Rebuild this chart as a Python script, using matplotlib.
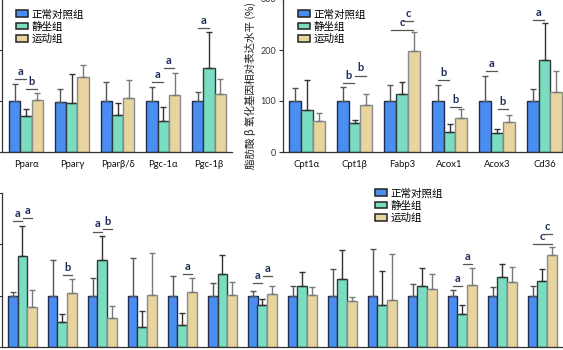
import matplotlib
matplotlib.use('Agg')
import matplotlib.pyplot as plt
import numpy as np
from matplotlib.patches import Patch

plt.rcParams['font.family'] = ['Lato', 'DejaVu Sans']

groups = ['正常对照组', '静坐组', '运动组']

# top left: PPAR / PGC genes
genes1 = ['Pparα', 'Pparγ', 'Pparβ/δ', 'Pgc-1α', 'Pgc-1β']
ctrl1 = [100, 98, 100, 100, 100]
ctrl1_sd = [33, 26, 38, 27, 18]
sed1 = [70, 97, 72, 61, 165]
sed1_sd = [14, 55, 25, 27, 71]
ex1 = [101, 148, 105, 112, 113]
ex1_sd = [14, 22, 36, 42, 31]
sig1 = [(0, 0, 1, 144, 'a'), (0, 1, 2, 124, 'b'), (3, 0, 1, 137, 'a'),
        (3, 1, 2, 164, 'a'), (4, 0, 1, 243, 'a')]

# top right: fatty acid beta-oxidation genes
genes2 = ['Cpt1α', 'Cpt1β', 'Fabp3', 'Acox1', 'Acox3', 'Cd36']
ctrl2 = [100, 100, 100, 100, 100, 100]
ctrl2_sd = [26, 28, 31, 31, 50, 24]
sed2 = [82, 56, 114, 39, 38, 180]
sed2_sd = [60, 7, 24, 15, 8, 72]
ex2 = [61, 93, 198, 67, 59, 118]
ex2_sd = [16, 21, 37, 17, 14, 41]
sig2 = [(1, 0, 1, 136, 'b'), (1, 1, 2, 150, 'b'), (2, 0, 2, 240, 'c'),
        (2, 1, 2, 257, 'c'), (3, 0, 1, 141, 'b'), (3, 1, 2, 88, 'b'),
        (4, 0, 1, 159, 'a'), (4, 1, 2, 84, 'b'), (5, 0, 1, 258, 'a')]
ylabel2 = '脂肪酸 β 氧化基因相对表达水平 (%)'

# bottom: 14 genes (labels cut off in the source)
ctrl3 = [100] * 14
ctrl3_sd = [8, 70, 34, 74, 38, 25, 10, 19, 51, 90, 22, 12, 17, 18]
sed3 = [177, 49, 169, 38, 42, 143, 82, 119, 132, 81, 119, 65, 136, 129]
sed3_sd = [59, 15, 47, 33, 24, 36, 12, 27, 56, 68, 34, 16, 26, 22]
ex3 = [77, 106, 57, 101, 107, 101, 103, 101, 90, 92, 113, 121, 127, 180]
ex3_sd = [34, 26, 22, 83, 28, 26, 15, 16, 7, 90, 30, 32, 28, 15]
sig3 = [(0, 0, 1, 245, 'a'), (0, 1, 2, 251, 'a'), (1, 1, 2, 140, 'b'),
        (2, 0, 1, 225, 'a'), (2, 1, 2, 230, 'b'), (4, 1, 2, 143, 'a'),
        (6, 0, 1, 125, 'a'), (6, 1, 2, 138, 'a'), (11, 0, 1, 119, 'a'),
        (11, 1, 2, 161, 'a'), (13, 0, 2, 201, 'c'), (13, 1, 2, 221, 'c')]

colors = ['#4a8ef2', '#7adcc1', '#e8d49e']
edges = ['#1d2b4f', '#2f3b38', '#8a8a8a']
ecolors = ['#555555', '#333333', '#7a7a7a']
CJK = ['Noto Sans CJK SC', 'DejaVu Sans']

W, H = 563, 350
fig = plt.figure(figsize=(W / 100, H / 100), dpi=100)


def px_axes(left, bottom, width, height):
    # pixel box (top-left origin) -> figure fraction
    return fig.add_axes([left / W, 1 - bottom / H, width / W, height / H])


def draw_panel(ax, series, sds, sig, w):
    n = len(series[0])
    x = np.arange(n)
    offs = [-w, 0, w]
    for k in range(3):
        ax.bar(x + offs[k], series[k], width=w, color=colors[k],
               edgecolor=edges[k], linewidth=1.0,
               yerr=[np.zeros(n), sds[k]],
               error_kw=dict(ecolor=ecolors[k], elinewidth=1.0,
                             capsize=2.5, capthick=1.0), zorder=2)
    for g, a, b, yv, letter in sig:
        x0 = g + offs[a] + 0.01
        x1 = g + offs[b] - 0.01
        ax.plot([x0, x1], [yv, yv], color='#555555', lw=0.9, zorder=3)
        ax.text((x0 + x1) / 2, yv + 4, letter, ha='center', va='bottom',
                fontsize=8, fontweight='bold', color='#1f2d5a')
    ax.set_ylim(0, 300)
    ax.set_yticks([0, 100, 200, 300])
    for s in ['top', 'right']:
        ax.spines[s].set_visible(False)
    for s in ['left', 'bottom']:
        ax.spines[s].set_color('#333333')
        ax.spines[s].set_linewidth(0.9)
    ax.tick_params(axis='x', length=0, pad=6, labelsize=6.8, colors='#111111')
    ax.tick_params(axis='y', direction='out', length=3, width=0.8, pad=2,
                   labelsize=6.5, colors='#333333')
    ax.patch.set_alpha(0)


def add_legend(x, y):
    handles = [Patch(facecolor=colors[k], edgecolor='#222222', linewidth=1.1)
               for k in range(3)]
    fig.legend(handles, groups, loc='upper left',
               bbox_to_anchor=(x / W, 1 - y / H), frameon=False,
               borderpad=0, borderaxespad=0, handlelength=1.15,
               handleheight=0.6, handletextpad=0.3, labelspacing=0.22,
               prop=dict(family=CJK, size=7.6))


# top left panel
ax1 = px_axes(2, 152, 230, 153)
draw_panel(ax1, [ctrl1, sed1, ex1], [ctrl1_sd, sed1_sd, ex1_sd], sig1, 0.247)
ax1.set_xlim(-0.525, 4.503)
ax1.set_xticks(range(len(genes1)))
ax1.set_xticklabels(genes1)
ax1.tick_params(axis='y', labelleft=False)
add_legend(16, 9)

# top right panel
ax2 = px_axes(283.3, 152, 285, 153)
draw_panel(ax2, [ctrl2, sed2, ex2], [ctrl2_sd, sed2_sd, ex2_sd], sig2, 0.25)
ax2.set_xlim(-0.5, 5.5)
ax2.set_xticks(range(len(genes2)))
ax2.set_xticklabels(genes2)
add_legend(298, 9)
fig.text(250 / W, 1 - 169 / H, ylabel2, rotation=90, ha='center',
         va='bottom', fontsize=7.6, family=CJK, color='#222222')

# bottom panel
ax3 = px_axes(2, 347, 564.4, 154)
draw_panel(ax3, [ctrl3, sed3, ex3], [ctrl3_sd, sed3_sd, ex3_sd], sig3, 0.245)
ax3.set_xlim(-0.51, 13.6)
ax3.set_xticks([])
ax3.tick_params(axis='y', labelleft=False)
add_legend(375, 188)

fig.savefig('out.png', dpi=100)
